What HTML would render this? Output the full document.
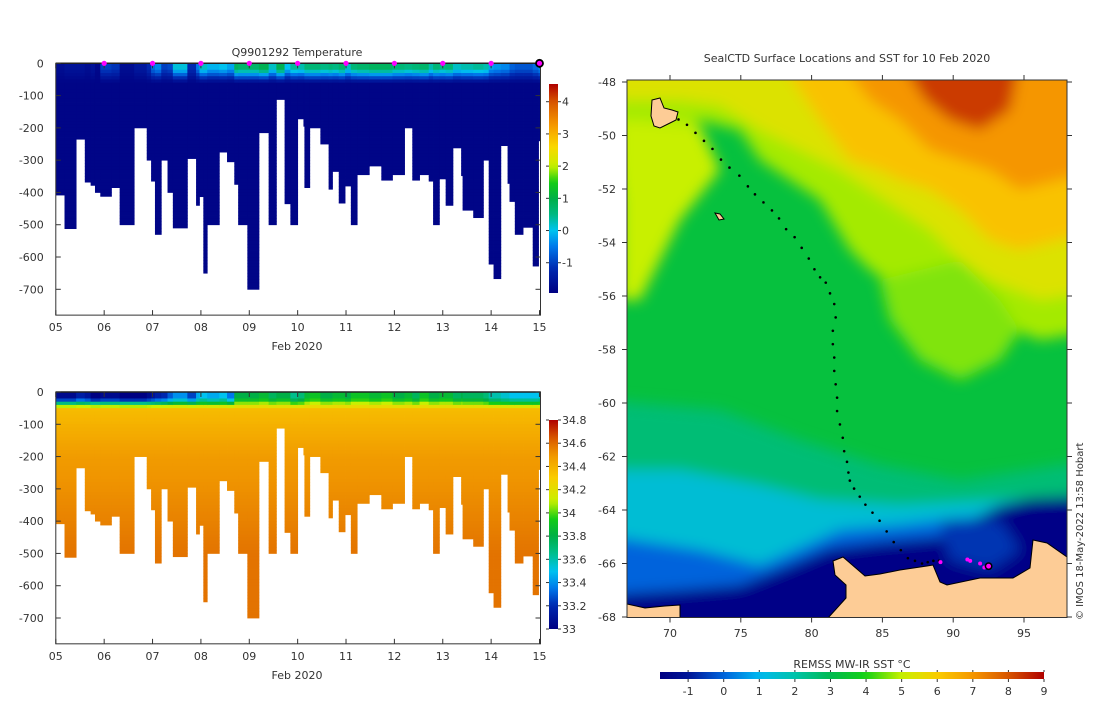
<!DOCTYPE html>
<html><head><meta charset="utf-8">
<style>
html,body{margin:0;padding:0;background:#fff;}
svg text{font-family:"DejaVu Sans","Liberation Sans",sans-serif;fill:#333;}
</style></head>
<body>
<svg id="root" width="1100" height="700" viewBox="0 0 1100 700" xmlns="http://www.w3.org/2000/svg">
<defs>
<filter id="blur" x="-10%" y="-10%" width="120%" height="120%"><feGaussianBlur stdDeviation="7"/></filter>
<clipPath id="mapclip"><rect x="627" y="80" width="440" height="538"/></clipPath>
<linearGradient id="tgrad" x1="0" y1="1" x2="0" y2="0"></linearGradient>
<linearGradient id="sgrad" x1="0" y1="1" x2="0" y2="0"></linearGradient>
<linearGradient id="mgrad" x1="0" y1="0" x2="1" y2="0"></linearGradient>
</defs>
<g id="top-chart"></g>
<g id="bot-chart"></g>
<g id="map"></g>
</svg>
<script>
// ---- section data ----
const profileStartDay = [5.0,5.18,5.42,5.60,5.72,5.81,5.92,6.15,6.32,6.62,6.88,6.97,7.05,7.18,7.31,7.42,7.72,7.90,7.97,8.05,8.13,8.38,8.54,8.69,8.77,8.96,9.20,9.40,9.56,9.73,9.85,10.00,10.12,10.14,10.25,10.47,10.64,10.72,10.85,10.98,11.10,11.23,11.48,11.73,11.96,12.21,12.37,12.52,12.71,12.80,12.93,13.06,13.21,13.38,13.41,13.63,13.84,13.95,14.05,14.20,14.34,14.38,14.49,14.66,14.86,14.98];
const profileDepth = [408,512,235,368,378,400,412,385,500,200,300,365,530,300,400,510,295,440,413,650,500,275,305,375,500,700,215,500,112,435,500,172,195,385,200,250,390,335,433,380,500,345,318,362,345,200,362,345,365,500,358,440,262,348,455,478,300,622,667,255,372,428,530,508,628,240];
const surfaceTemp = [-1.7,-1.6,-1.6,-1.7,-1.6,-1.8,-1.0,-1.1,-1.7,-1.5,-1.2,-0.6,-0.4,-1.0,-0.9,0.1,-1.2,-0.5,0.2,0.2,-0.1,0.0,-0.2,0.8,0.7,0.7,0.9,0.2,0.9,0.0,0.4,0.3,0.3,0.6,0.6,0.5,0.6,0.5,0.7,0.2,0.6,0.7,0.8,0.8,0.6,0.5,0.6,0.7,0.3,0.6,0.5,0.6,0.2,0.3,0.3,0.4,0.3,-0.2,-0.3,-0.4,-0.4,-0.7,-0.8,-0.8,-0.6,-0.3];
const surfaceSal = [33.05,33.05,33.15,33.1,33.0,33.0,33.05,33.05,33.0,33.0,33.05,33.1,33.15,33.2,33.3,33.4,33.25,33.45,33.5,33.5,33.45,33.5,33.35,33.8,33.8,33.8,33.85,33.75,33.8,33.8,33.65,33.7,33.7,33.85,33.9,33.8,33.8,33.85,33.85,33.8,33.9,33.9,33.85,33.9,33.8,33.85,33.75,33.9,33.8,33.8,33.85,33.85,33.75,33.8,33.75,33.75,33.7,33.6,33.6,33.55,33.55,33.5,33.5,33.5,33.5,33.55];
const dayTicks = ["05","06","07","08","09","10","11","12","13","14","15"];
const depthTicks = [0,-100,-200,-300,-400,-500,-600,-700];
const tempCbTicks = [-1,0,1,2,3,4];
const salCbTicks = [33,33.2,33.4,33.6,33.8,34,34.2,34.4,34.6,34.8];
const sstCbTicks = [-1,0,1,2,3,4,5,6,7,8,9];
// ---- track data (lon, lat) ----
const trackLon = [70.6,71.2,71.8,72.4,73.0,73.6,74.2,74.9,75.5,76.0,76.6,77.2,77.7,78.2,78.8,79.3,79.8,80.2,80.6,81.0,81.3,81.6,81.7,81.5,81.5,81.6,81.6,81.7,81.8,81.8,82.0,82.2,82.3,82.5,82.6,82.7,83.0,83.4,83.8,84.3,84.8,85.3,85.8,86.3,86.8,87.3,87.8,88.2,88.6,89.0];
const trackLat = [-49.4,-49.6,-49.9,-50.2,-50.5,-50.9,-51.2,-51.5,-51.9,-52.2,-52.5,-52.8,-53.1,-53.5,-53.8,-54.2,-54.6,-55.0,-55.3,-55.5,-55.9,-56.3,-56.8,-57.3,-57.8,-58.3,-58.8,-59.3,-59.8,-60.3,-60.8,-61.3,-61.8,-62.2,-62.6,-62.9,-63.2,-63.5,-63.8,-64.1,-64.4,-64.8,-65.2,-65.5,-65.8,-65.9,-66.0,-65.95,-65.9,-65.9];
const magentaLon = [89.1,91.0,91.2,91.9,92.2,92.5];
const magentaLat = [-65.95,-65.85,-65.9,-66.0,-66.15,-66.1];

const NS="http://www.w3.org/2000/svg";
function mk(parent,tag,attrs,text){const e=document.createElementNS(NS,tag);for(const k in attrs)e.setAttribute(k,attrs[k]);if(text!==undefined)e.textContent=text;parent.appendChild(e);return e;}

const tMin=-1.94,tMax=4.55,sMin=33,sMax=34.8,mMin=-1.79,mMax=9.0;
const tStops=[[-1.94,[0,0,130]],[-1.2,[0,40,175]],[-0.5,[0,120,235]],[0,[0,195,240]],[0.5,[0,185,130]],[1.0,[0,175,70]],[1.5,[20,205,20]],[2.0,[200,240,0]],[2.6,[250,215,0]],[3.3,[245,150,0]],[4.0,[215,85,0]],[4.55,[175,0,0]]];
const sStops=[[33,[0,0,130]],[33.2,[0,40,175]],[33.35,[0,120,235]],[33.5,[0,195,240]],[33.65,[0,190,140]],[33.8,[0,175,70]],[33.95,[20,205,20]],[34.1,[200,240,0]],[34.3,[250,205,0]],[34.5,[240,150,0]],[34.65,[215,85,0]],[34.8,[175,0,0]]];
const mStops=[[-1.79,[0,0,130]],[-1,[0,20,150]],[0,[0,100,220]],[1,[0,185,240]],[2,[0,195,170]],[3,[0,185,80]],[4,[20,210,20]],[5,[200,240,0]],[6,[250,205,0]],[7,[245,150,0]],[8,[215,85,0]],[9,[175,0,0]]];
function cm(stops,v){if(v<=stops[0][0])return`rgb(${stops[0][1]})`;for(let i=1;i<stops.length;i++){if(v<=stops[i][0]){const a=stops[i-1],b=stops[i];const f=(v-a[0])/(b[0]-a[0]);const c=a[1].map((x,j)=>Math.round(x+(b[1][j]-x)*f));return`rgb(${c})`;}}return`rgb(${stops[stops.length-1][1]})`;}

function section(gid,y0,pxPerM,valueAt,stops,vmin,vmax,ticks,tickFmt,title,gradId){
  const g=document.getElementById(gid);
  const x0=55.8,x1=539.5;const pxDay=(x1-x0)/10;
  const X=d=>x0+(d-5)*pxDay; const Y=m=>y0+m*pxPerM;
  const yBot=Y(780);
  for(let i=0;i<profileStartDay.length;i++){
    const xa=X(profileStartDay[i]); const xb=i+1<profileStartDay.length?X(profileStartDay[i+1]):X(15.02);
    const col=mk(g,'g',{});
    
    
    for(let d=0; d<profileDepth[i]; d+=10){
      const h=Math.min(10,profileDepth[i]-d);
      mk(col,'rect',{x:xa.toFixed(2),y:Y(d).toFixed(2),width:(xb-xa+0.4).toFixed(2),height:(h*pxPerM+0.4).toFixed(2),fill:cm(stops,valueAt(i,d+5))});
    }
  }
  const fr=mk(g,'rect',{x:x0,y:y0,width:x1-x0+1,height:yBot-y0,fill:'none',stroke:'#333','stroke-width':1});
  
  mk(g,'line',{x1:x0,y1:y0,x2:x1+1,y2:y0,stroke:'#222','stroke-width':1.5});
  dayTicks.forEach((lab,i)=>{const x=X(5+i);mk(g,'line',{x1:x,y1:yBot,x2:x,y2:yBot-5,stroke:'#333'});mk(g,'line',{x1:x,y1:y0,x2:x,y2:y0+5,stroke:'#333'});
    const t=mk(g,'text',{x:x,y:yBot+16,'font-size':11,'text-anchor':'middle'},lab);});
  const xt=mk(g,'text',{x:297,y:yBot+35,'font-size':11,'text-anchor':'middle'},'Feb 2020');
  depthTicks.forEach(v=>{const y=Y(-v);mk(g,'line',{x1:x0,y1:y,x2:x0+5,y2:y,stroke:'#333'});mk(g,'line',{x1:x1+1,y1:y,x2:x1-4,y2:y,stroke:'#333'});
    const t=mk(g,'text',{x:x0-12,y:y+4,'font-size':11,'text-anchor':'end'},String(v));});
  const cbTop=gid==='top-chart'?84:420, cbBot=gid==='top-chart'?293:629, cbX=549, cbW=9;
  const grad=document.getElementById(gradId);
  for(let k=0;k<=40;k++){const v=vmin+(vmax-vmin)*k/40;mk(grad,'stop',{offset:(k/40),'stop-color':cm(stops,v)});}
  const cb=mk(g,'rect',{x:cbX,y:cbTop,width:cbW,height:cbBot-cbTop,fill:`url(#${gradId})`});
  
  ticks.forEach(v=>{const y=cbBot-(v-vmin)/(vmax-vmin)*(cbBot-cbTop);mk(g,'line',{x1:cbX,y1:y,x2:cbX-3,y2:y,stroke:'#333'});mk(g,'line',{x1:cbX+cbW,y1:y,x2:cbX+cbW+3,y2:y,stroke:'#333'});
    const t=mk(g,'text',{x:cbX+cbW+4,y:y+4,'font-size':11},tickFmt(v));});
  if(title){const t=mk(g,'text',{x:297,y:56,'font-size':11,'text-anchor':'middle'},title);
    for(let d=6; d<=14; d++){const m=mk(g,'circle',{cx:X(d),cy:y0,r:2.6,fill:'#ff00ff'});}
    const c=mk(g,'circle',{cx:X(15),cy:y0,r:3.5,fill:'#ff00ff',stroke:'#000','stroke-width':1.8});}
}
function tempAt(i,d){const deep=-1.85;const s=surfaceTemp[i];if(d<18)return s;if(d>60)return deep;const f=(d-18)/42;return s+(deep-s)*f;}
function salAt(i,d){const s=surfaceSal[i];let deep=d<200?34.36+(d-50)/150*0.12:34.48+Math.min(1,(d-200)/300)*0.1;if(d<20)return s;if(d<50){const f=(d-20)/30;return s+(34.3-s)*f;}return deep;}
section('top-chart',63.3,226/700,tempAt,tStops,tMin,tMax,tempCbTicks,v=>String(v),'Q9901292  Temperature','tgrad');
section('bot-chart',392,226/700,salAt,sStops,sMin,sMax,salCbTicks,v=>String(+v.toFixed(1)),null,'sgrad');

(function(){
  const g=document.getElementById('map');
  const mx0=627,mx1=1067,my0=80,my1=617.5;
  const LX=lon=>670+(lon-70)*(1024-670)/25;
  const LY=lat=>82+(-48-lat)*(617-82)/20;
  const sc=v=>cm(mStops,v);
  const fields=mk(g,'g',{'clip-path':'url(#mapclip)'});
  
  mk(fields,'rect',{x:mx0,y:my0,width:440,height:540,fill:sc(3.3)});
  const blurG=mk(fields,'g',{filter:'url(#blur)'});
  const P=(pts,v)=>mk(blurG,'polygon',{points:pts,fill:sc(v)});
  P('600,60 1100,60 1100,330 1040,340 990,320 950,300 900,290 870,270 850,250 820,200 790,180 760,160 740,130 700,120 660,150 620,200',4.8);
  P('600,60 1100,60 1100,290 1040,300 990,280 960,260 930,230 900,210 870,190 840,170 800,150 760,130 720,105 680,100 620,100',5.4);
  P('620,120 700,125 720,170 680,220 640,300 620,300',5.0);
  P('780,60 1100,60 1100,230 1060,240 1020,250 990,240 960,210 930,190 900,180 880,170 850,160 820,120',6.2);
  P('840,60 1100,60 1100,170 1060,180 1020,190 990,170 960,160 930,150 900,120 870,100',7.0);
  P('900,60 1020,60 1010,110 980,130 950,120 925,100',8.3);
  P('880,280 960,260 1000,300 1020,330 1000,360 960,380 920,360 890,320',4.6);
  P('600,400 720,410 800,440 880,465 960,480 1060,465 1100,460 1100,700 600,700',2.6);
  P('600,470 680,470 760,485 820,500 900,505 1000,500 1100,495 1100,700 600,700',1.4);
  P('600,535 700,550 760,565 800,548 840,530 900,525 960,518 1100,512 1100,700 600,700',0.0);
  P('600,595 680,590 740,585 790,565 830,548 880,542 940,537 1000,505 1030,498 1100,495 1100,700 600,700',-1.6);
  P('940,520 1000,520 1020,550 990,570 950,560',-0.6);
  const land=mk(fields,'polygon',{points:'833,561 843,557 865,576 880,574 900,570 927,566 933,565 940,582 947,585 980,578 1013,578 1030,568 1033,540 1047,543 1067,557 1067,618 828,618 846,598 846,585 835,575',fill:'#fdcc96',stroke:'#000','stroke-width':1});
  
  mk(fields,'polygon',{points:'627,604 645,608 665,606 680,605 680,618 627,618',fill:'#fdcc96',stroke:'#000','stroke-width':1});
  const kg=mk(fields,'polygon',{points:'652,100 660,98 664,108 672,110 678,112 676,120 668,124 660,128 654,126 651,116',fill:'#fdcc96',stroke:'#000','stroke-width':1});
  
  mk(fields,'polygon',{points:'715,213 720,214 724,219 719,220',fill:'#fdcc96',stroke:'#000','stroke-width':1});
  for(let i=0;i<trackLon.length;i++){const d=mk(g,'circle',{cx:LX(trackLon[i]),cy:LY(trackLat[i]),r:1.3,fill:'#000'});
    
    }
  for(let i=0;i<magentaLon.length;i++){const last=i===magentaLon.length-1;const d=mk(g,'circle',{cx:LX(magentaLon[i]),cy:LY(magentaLat[i]),r:last?3.2:2,fill:'#ff00ff',stroke:last?'#000':'none','stroke-width':1.5});
    
    }
  mk(g,'rect',{x:mx0,y:my0,width:mx1-mx0,height:my1-my0,fill:'none',stroke:'#333'});
  [70,75,80,85,90,95].forEach(lon=>{const x=LX(lon);mk(g,'line',{x1:x,y1:my0,x2:x,y2:my0-5,stroke:'#333'});mk(g,'line',{x1:x,y1:my1,x2:x,y2:my1+5,stroke:'#333'});
    const t=mk(g,'text',{x:x,y:637,'font-size':11,'text-anchor':'middle'},String(lon));});
  [-48,-50,-52,-54,-56,-58,-60,-62,-64,-66,-68].forEach(lat=>{const y=LY(lat);mk(g,'line',{x1:mx0,y1:y,x2:mx0-5,y2:y,stroke:'#333'});mk(g,'line',{x1:mx1,y1:y,x2:mx1+5,y2:y,stroke:'#333'});
    const t=mk(g,'text',{x:616,y:y+4,'font-size':11,'text-anchor':'end'},String(lat));});
  const tt=mk(g,'text',{x:847,y:62,'font-size':11,'text-anchor':'middle'},'SealCTD Surface Locations and SST for 10 Feb 2020');
  const cr=mk(g,'text',{x:0,y:0,'font-size':10,transform:'translate(1083,620) rotate(-90)'},'© IMOS 18-May-2022 13:58 Hobart');
  const grad=document.getElementById('mgrad');
  for(let k=0;k<=40;k++){const v=mMin+(mMax-mMin)*k/40;mk(grad,'stop',{offset:k/40,'stop-color':sc(v)});}
  const cbx0=660,cbx1=1044;
  const cb=mk(g,'rect',{x:cbx0,y:672,width:cbx1-cbx0,height:7,fill:'url(#mgrad)'});
  const ct=mk(g,'text',{x:852,y:668,'font-size':11,'text-anchor':'middle'},'REMSS MW-IR SST °C');
  sstCbTicks.forEach(v=>{const x=cbx0+(v-mMin)/(mMax-mMin)*(cbx1-cbx0);mk(g,'line',{x1:x,y1:670,x2:x,y2:672,stroke:'#333'});mk(g,'line',{x1:x,y1:679,x2:x,y2:682,stroke:'#333'});
    const t=mk(g,'text',{x:x,y:695,'font-size':11,'text-anchor':'middle'},String(v));});
})();
</script>
</body></html>
